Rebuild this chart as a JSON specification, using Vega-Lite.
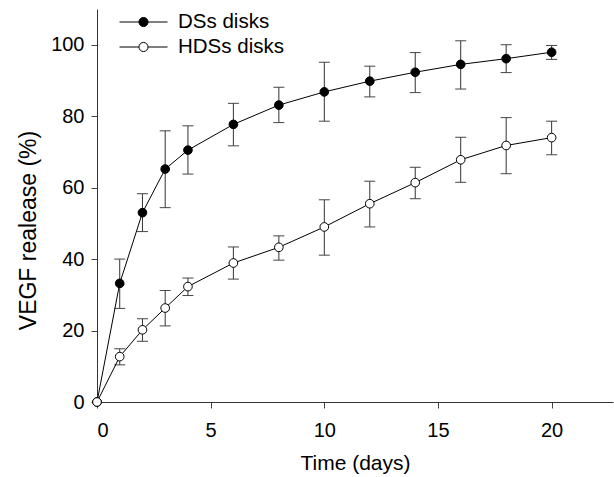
{
  "$schema": "https://vega.github.io/schema/vega-lite/v6.json",
  "autosize": {"type": "none"},
  "padding": {"left": 97, "top": 9, "right": 1, "bottom": 75},
  "width": 516,
  "height": 393,
  "background": "white",
  "config": {
    "view": {"stroke": null},
    "font": "Liberation Sans",
    "axis": {
      "grid": false,
      "domainColor": "#333",
      "tickColor": "#444",
      "tickSize": 6,
      "labelColor": "black",
      "titleColor": "black",
      "labelFont": "Liberation Sans",
      "titleFont": "Liberation Sans",
      "labelFontSize": 20,
      "titleFontWeight": "normal"
    }
  },
  "data": {
    "values": [
      {"series": "DSs disks", "t": 0, "mean": 0, "lo": null, "hi": null},
      {"series": "DSs disks", "t": 1, "mean": 33.2, "lo": 26.2, "hi": 40.0},
      {"series": "DSs disks", "t": 2, "mean": 53.0, "lo": 47.7, "hi": 58.3},
      {"series": "DSs disks", "t": 3, "mean": 65.2, "lo": 54.4, "hi": 75.9},
      {"series": "DSs disks", "t": 4, "mean": 70.5, "lo": 63.8, "hi": 77.3},
      {"series": "DSs disks", "t": 6, "mean": 77.7, "lo": 71.7, "hi": 83.6},
      {"series": "DSs disks", "t": 8, "mean": 83.1, "lo": 78.2, "hi": 88.1},
      {"series": "DSs disks", "t": 10, "mean": 86.8, "lo": 78.6, "hi": 95.1},
      {"series": "DSs disks", "t": 12, "mean": 89.8, "lo": 85.4, "hi": 94.0},
      {"series": "DSs disks", "t": 14, "mean": 92.3, "lo": 86.6, "hi": 97.8},
      {"series": "DSs disks", "t": 16, "mean": 94.5, "lo": 87.6, "hi": 101.1},
      {"series": "DSs disks", "t": 18, "mean": 96.1, "lo": 92.2, "hi": 100.0},
      {"series": "DSs disks", "t": 20, "mean": 97.9, "lo": 95.9, "hi": 99.8},
      {"series": "HDSs disks", "t": 0, "mean": 0, "lo": null, "hi": null},
      {"series": "HDSs disks", "t": 1, "mean": 12.7, "lo": 10.4, "hi": 14.9},
      {"series": "HDSs disks", "t": 2, "mean": 20.2, "lo": 17.0, "hi": 23.3},
      {"series": "HDSs disks", "t": 3, "mean": 26.3, "lo": 21.3, "hi": 31.2},
      {"series": "HDSs disks", "t": 4, "mean": 32.3, "lo": 29.8, "hi": 34.7},
      {"series": "HDSs disks", "t": 6, "mean": 38.9, "lo": 34.4, "hi": 43.4},
      {"series": "HDSs disks", "t": 8, "mean": 43.3, "lo": 39.7, "hi": 46.5},
      {"series": "HDSs disks", "t": 10, "mean": 49.0, "lo": 41.1, "hi": 56.6},
      {"series": "HDSs disks", "t": 12, "mean": 55.5, "lo": 49.0, "hi": 61.8},
      {"series": "HDSs disks", "t": 14, "mean": 61.4, "lo": 56.9, "hi": 65.7},
      {"series": "HDSs disks", "t": 16, "mean": 67.8, "lo": 61.5, "hi": 74.1},
      {"series": "HDSs disks", "t": 18, "mean": 71.8, "lo": 63.9, "hi": 79.6},
      {"series": "HDSs disks", "t": 20, "mean": 74.0, "lo": 69.2, "hi": 78.6}
    ]
  },
  "encoding": {
    "x": {
      "field": "t",
      "type": "quantitative",
      "scale": {"domain": [0, 22.7], "nice": false, "zero": false},
      "axis": {
        "title": "Time (days)",
        "values": [0, 5, 10, 15, 20],
        "labelPadding": 12,
        "titleFontSize": 21,
        "titleBaseline": "alphabetic",
        "titleY": 67
      }
    }
  },
  "layer": [
    {
      "transform": [{"filter": "datum.lo != null"}],
      "mark": {"type": "rule", "color": "#333", "strokeWidth": 1},
      "encoding": {
        "y": {
          "field": "lo",
          "type": "quantitative",
          "scale": {"domain": [0, 110], "nice": false},
          "axis": {
            "title": "VEGF realease (%)",
            "values": [0, 20, 40, 60, 80, 100],
            "labelPadding": 7,
            "titleFontSize": 23,
            "titleBaseline": "alphabetic",
            "titleX": -62,
            "titleY": 221
          }
        },
        "y2": {"field": "hi"}
      }
    },
    {
      "transform": [{"filter": "datum.lo != null"}],
      "mark": {"type": "tick", "orient": "horizontal", "color": "#444", "size": 11, "thickness": 1, "opacity": 1},
      "encoding": {"y": {"field": "lo", "type": "quantitative"}}
    },
    {
      "transform": [{"filter": "datum.lo != null"}],
      "mark": {"type": "tick", "orient": "horizontal", "color": "#444", "size": 11, "thickness": 1, "opacity": 1},
      "encoding": {"y": {"field": "hi", "type": "quantitative"}}
    },
    {
      "mark": {"type": "line", "color": "black", "strokeWidth": 1},
      "encoding": {
        "y": {"field": "mean", "type": "quantitative"},
        "detail": {"field": "series"},
        "order": {"field": "t"}
      }
    },
    {
      "mark": {"type": "point", "shape": "circle", "filled": false, "stroke": "black", "strokeWidth": 1, "size": 75, "opacity": 1},
      "encoding": {
        "y": {"field": "mean", "type": "quantitative"},
        "fill": {
          "field": "series",
          "type": "nominal",
          "scale": {"domain": ["DSs disks", "HDSs disks"], "range": ["black", "white"]},
          "legend": {
            "title": null,
            "orient": "none",
            "legendX": 22,
            "legendY": 2,
            "padding": 0,
            "symbolType": "M-1,0H-0.19A0.19,0.19,0,1,1,0.19,0A0.19,0.19,0,1,1,-0.19,0M0.19,0H1",
            "symbolSize": 2304,
            "symbolStrokeColor": "black",
            "symbolStrokeWidth": 1,
            "symbolOpacity": 1,
            "symbolOffset": 0,
            "clipHeight": 22,
            "rowPadding": 3,
            "labelOffset": 10,
            "labelFont": "Liberation Sans",
            "labelFontSize": 20.5,
            "labelColor": "black",
            "labelLimit": 300
          }
        }
      }
    }
  ]
}
